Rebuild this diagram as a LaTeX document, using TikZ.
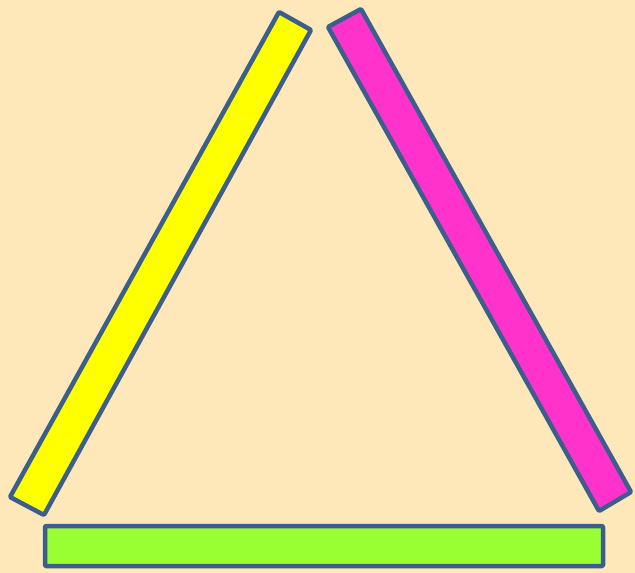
\documentclass[tikz,border=0pt]{standalone}
\begin{document}
\begin{tikzpicture}[x=1pt,y=-1pt,
  bar/.style={draw=barline,line width=4.5pt,line join=round,rounded corners=1pt}]
\definecolor{bg}{HTML}{FEE8BA}
\definecolor{barline}{HTML}{3B5E8C}
\definecolor{byellow}{HTML}{FFFF00}
\definecolor{bmagenta}{HTML}{FF33CC}
\definecolor{bgreen}{HTML}{99FF33}
\fill[bg] (0,0) rectangle (635,573);
\useasboundingbox (0,0) rectangle (635,573);
\draw[bar,fill=byellow] (279,12) -- (311,30) -- (44,515) -- (10,497) -- cycle;
\draw[bar,fill=bmagenta] (328,27) -- (361,9) -- (631,492) -- (599,511) -- cycle;
\draw[bar,fill=bgreen] (45,526) rectangle (603,566);
\end{tikzpicture}
\end{document}
